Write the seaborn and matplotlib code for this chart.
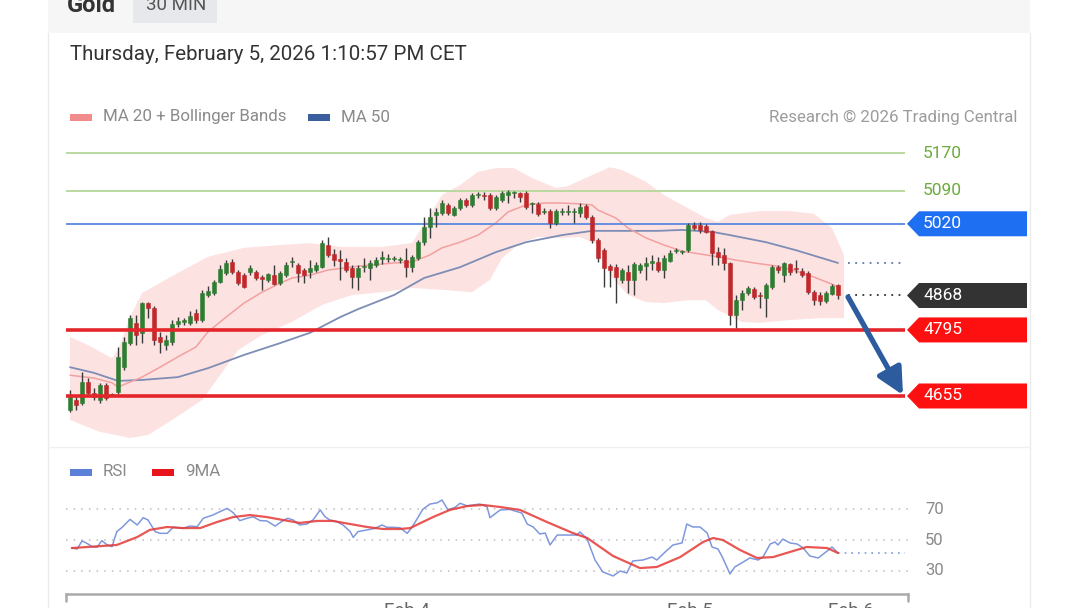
import matplotlib
matplotlib.use("Agg")
import matplotlib.pyplot as plt
import matplotlib.patches as mpatches
import matplotlib.lines as mlines
import matplotlib.transforms as mtransforms
import numpy as np
import seaborn as sns

# --- candles (30 min) ---
opens = [4625, 4646, 4640, 4685, 4661, 4646, 4678, 4655, 4663, 4716,
         4767, 4810, 4789, 4852, 4841, 4780, 4763, 4770, 4808, 4812,
         4810, 4831, 4816, 4869, 4873, 4897, 4916, 4939, 4918, 4911,
         4918, 4918, 4907, 4901, 4911, 4894, 4911, 4939, 4933, 4922,
         4918, 4922, 4928, 4975, 4956, 4946, 4939, 4926, 4907, 4928,
         4926, 4933, 4946, 4945, 4945, 4943, 4943, 4928, 4947, 4981,
         5013, 5038, 5043, 5060, 5038, 5053, 5070, 5060, 5081, 5081,
         5081, 5053, 5070, 5081, 5085, 5085, 5085, 5062, 5062, 5045,
         5047, 5022, 5045, 5045, 5045, 5043, 5058, 5034, 4986, 4964,
         4931, 4928, 4901, 4918, 4901, 4922, 4930, 4937, 4939, 4922,
         4941, 4962, 4960, 4964, 5017, 5017, 5015, 5004, 4960, 4954,
         4937, 4827, 4858, 4873, 4882, 4869, 4863, 4886, 4928, 4911,
         4935, 4926, 4920, 4916, 4875, 4869, 4856, 4871, 4890]
highs = [4668, 4655, 4706, 4693, 4672, 4682, 4682, 4661, 4759, 4780,
         4827, 4827, 4854, 4854, 4846, 4791, 4784, 4816, 4822, 4820,
         4835, 4839, 4880, 4888, 4901, 4933, 4943, 4945, 4922, 4916,
         4933, 4922, 4911, 4916, 4933, 4920, 4939, 4950, 4937, 4926,
         4943, 4939, 4986, 4992, 4967, 4964, 4947, 4933, 4933, 4947,
         4943, 4950, 4962, 4956, 4952, 4950, 4969, 4954, 4986, 5034,
         5053, 5053, 5070, 5064, 5058, 5075, 5075, 5085, 5087, 5087,
         5085, 5081, 5089, 5092, 5089, 5087, 5089, 5066, 5066, 5053,
         5051, 5051, 5053, 5060, 5053, 5064, 5062, 5039, 4990, 4969,
         4935, 4935, 4926, 4933, 4939, 4937, 4950, 4954, 4950, 4954,
         4964, 4969, 4964, 5022, 5024, 5024, 5020, 5007, 4971, 4969,
         4939, 4869, 4880, 4888, 4886, 4875, 4894, 4933, 4933, 4939,
         4937, 4943, 4926, 4920, 4880, 4875, 4877, 4892, 4892]
lows = [4621, 4625, 4636, 4655, 4646, 4640, 4646, 4655, 4659, 4710,
        4763, 4763, 4767, 4820, 4763, 4746, 4752, 4763, 4801, 4805,
        4805, 4810, 4812, 4865, 4869, 4894, 4911, 4914, 4890, 4884,
        4911, 4901, 4880, 4897, 4890, 4890, 4907, 4928, 4897, 4894,
        4905, 4918, 4926, 4950, 4930, 4901, 4918, 4884, 4880, 4918,
        4901, 4928, 4935, 4939, 4941, 4937, 4907, 4918, 4943, 4975,
        4990, 5013, 5039, 5039, 5036, 5049, 5056, 5056, 5075, 5070,
        5049, 5049, 5066, 5064, 5075, 5066, 5051, 5043, 5036, 5041,
        5011, 5017, 5039, 5039, 5022, 5034, 5030, 4979, 4939, 4886,
        4886, 4852, 4894, 4873, 4869, 4916, 4901, 4922, 4918, 4905,
        4939, 4958, 4956, 4960, 5007, 5000, 5000, 4933, 4933, 4922,
        4805, 4799, 4837, 4869, 4861, 4841, 4822, 4882, 4916, 4897,
        4911, 4916, 4907, 4871, 4848, 4848, 4852, 4869, 4861]
closes = [4653, 4636, 4685, 4661, 4653, 4678, 4651, 4659, 4738, 4769,
          4820, 4784, 4852, 4841, 4774, 4769, 4774, 4808, 4814, 4814,
          4825, 4816, 4873, 4877, 4897, 4924, 4937, 4918, 4894, 4886,
          4926, 4905, 4903, 4914, 4892, 4916, 4933, 4941, 4916, 4911,
          4926, 4933, 4979, 4954, 4943, 4941, 4922, 4907, 4926, 4930,
          4937, 4943, 4947, 4947, 4945, 4943, 4928, 4950, 4981, 5013,
          5034, 5045, 5064, 5043, 5053, 5070, 5060, 5081, 5081, 5079,
          5053, 5077, 5085, 5087, 5085, 5077, 5055, 5062, 5041, 5045,
          5022, 5047, 5045, 5045, 5045, 5055, 5034, 4986, 4947, 4926,
          4922, 4907, 4922, 4901, 4935, 4933, 4937, 4941, 4922, 4947,
          4958, 4964, 4962, 5017, 5011, 5007, 5002, 4958, 4950, 4937,
          4827, 4858, 4873, 4884, 4865, 4867, 4890, 4928, 4922, 4937,
          4918, 4924, 4911, 4875, 4858, 4856, 4873, 4888, 4868]

# --- indicators (sampled at candle positions) ---
ma20_idx = [0, 4, 7, 8, 12, 15, 18, 21, 23, 26, 29, 32, 35, 37, 40, 43, 48, 54,
            57, 60, 62, 65, 68, 71, 73, 76, 79, 82, 85, 87, 88, 91, 93, 96, 99,
            102, 105, 108, 111, 114, 118, 121, 124, 127, 128]
ma20 = [4699, 4693, 4683, 4674, 4695, 4716, 4738, 4759, 4791, 4822, 4852, 4875,
        4894, 4905, 4911, 4922, 4930, 4937, 4939, 4954, 4969, 4981, 4996, 5022,
        5045, 5060, 5064, 5064, 5062, 5060, 5049, 5032, 5011, 4990, 4975, 4962,
        4956, 4950, 4943, 4937, 4930, 4920, 4907, 4892, 4886]

bb_up_idx = [0, 3, 7, 8, 10, 12, 18, 23, 29, 35, 40, 45, 52, 57, 60, 62, 65, 68,
             71, 74, 77, 81, 83, 87, 90, 92, 96, 99, 102, 106, 108, 110, 115,
             120, 124, 127, 129]
bb_upper = [4780, 4763, 4735, 4752, 4822, 4873, 4916, 4950, 4969, 4975, 4979,
            4971, 4971, 4979, 5039, 5081, 5102, 5130, 5138, 5138, 5117, 5096,
            5100, 5123, 5140, 5134, 5109, 5081, 5060, 5032, 5024, 5039, 5047,
            5047, 5041, 5011, 4954]
bb_lo_idx = [0, 5, 10, 13, 17, 22, 25, 28, 32, 37, 42, 47, 52, 57, 62, 67, 70,
             72, 75, 78, 82, 85, 88, 90, 93, 96, 99, 103, 106, 108, 112, 115,
             120, 125, 129]
bb_lower = [4604, 4579, 4566, 4572, 4604, 4646, 4699, 4752, 4784, 4812, 4848,
            4869, 4875, 4884, 4880, 4875, 4901, 4947, 4979, 4992, 4990, 4992,
            4975, 4911, 4869, 4854, 4852, 4858, 4858, 4837, 4812, 4810, 4816,
            4820, 4820]

ma50_idx = [0, 4, 8, 12, 18, 23, 29, 35, 40, 45, 48, 54, 59, 65, 71, 76, 82, 87,
            92, 98, 102, 107, 110, 116, 121, 128]
ma50 = [4716, 4704, 4687, 4689, 4695, 4714, 4742, 4767, 4789, 4822, 4839, 4869,
        4905, 4928, 4960, 4981, 4996, 5005, 5005, 5005, 5007, 5003, 4996, 4981,
        4964, 4937]

rsi_idx = [0.3, 1.2, 2.0, 2.8, 3.7, 4.5, 5.3, 6.2, 7.0, 7.8, 8.7, 10.0, 11.2,
           12.2, 13.0, 14.2, 15.0, 16.2, 17.2, 18.8, 20.0, 21.2, 22.2, 23.8,
           25.0, 26.2, 27.2, 28.3, 29.5, 30.5, 31.7, 32.8, 34.2, 35.5, 36.3,
           37.2, 38.3, 39.5, 40.5, 41.7, 42.5, 43.3, 44.5, 45.5, 46.7, 47.2,
           48.0, 49.5, 50.8, 52.0, 52.8, 53.8, 55.0, 56.2, 57.0, 57.8, 58.8,
           60.0, 61.2, 62.0, 63.0, 64.2, 65.0, 66.2, 67.2, 68.3, 69.5, 70.0,
           71.7, 73.3, 75.3, 76.2, 77.2, 78.3, 79.2, 80.0, 81.2, 82.8, 84.5,
           85.0, 86.2, 87.5, 88.8, 90.5, 91.7, 92.8, 93.8, 95.5, 97.0, 97.8,
           99.2, 100.5, 102.0, 102.8, 103.8, 105.0, 106.2, 107.0, 108.0,
           108.8, 110.0, 110.8, 112.2, 113.3, 114.7, 115.5, 116.7, 117.5,
           118.0, 118.8, 120.0, 121.2, 122.2, 123.3, 124.7, 126.2, 127.0, 128.0]
rsi = [44.8, 44.2, 49.4, 47.9, 45.7, 45.3, 49.6, 46.8, 45.7, 55.4, 58.2, 63.3,
       59.7, 64.4, 62.9, 55.4, 54.3, 54.3, 58.2, 57.5, 59.0, 58.6, 64.0, 66.1,
       68.3, 70.4, 67.6, 62.5, 64.0, 65.0, 62.5, 62.3, 59.0, 62.5, 64.0, 62.9,
       59.7, 60.3, 62.9, 69.4, 65.0, 62.9, 61.8, 59.7, 55.4, 51.7, 55.4, 56.5,
       57.5, 59.7, 58.2, 58.2, 57.9, 54.3, 58.2, 63.3, 69.8, 73.2, 74.0, 75.8,
       69.4, 71.1, 73.7, 72.0, 72.6, 73.2, 71.5, 64.4, 69.4, 69.7, 67.4, 60.3,
       58.4, 53.9, 54.5, 46.8, 53.2, 53.2, 53.2, 55.2, 50.6, 37.1, 29.4, 26.8,
       30.0, 28.7, 36.5, 37.1, 39.0, 37.1, 42.3, 46.8, 48.1, 60.3, 58.4, 58.4,
       54.5, 45.5, 44.2, 38.4, 28.1, 32.6, 35.8, 38.4, 37.1, 39.0, 47.4, 48.7,
       46.8, 50.6, 48.1, 47.4, 44.8, 39.7, 38.4, 42.9, 45.5, 41.6]

ma9_idx = [0.3, 7.8, 11.2, 13.3, 16.2, 18.8, 21.7, 24.5, 27.2, 30.0, 32.8, 35.5,
           38.3, 41.2, 43.8, 46.7, 49.5, 52.2, 55.0, 56.7, 60.5, 63.3, 66.2,
           68.8, 71.7, 75.0, 79.5, 83.8, 86.2, 90.5, 95.0, 97.8, 101.7, 105.5,
           107.2, 108.8, 111.7, 114.5, 117.2, 120.0, 122.8, 126.2, 128.0]
ma9 = [44.8, 46.8, 51.9, 56.5, 58.4, 57.7, 57.7, 61.6, 64.8, 66.1, 64.8, 62.9,
       61.0, 62.3, 62.3, 60.3, 58.4, 57.1, 57.1, 57.7, 64.8, 69.4, 71.9, 72.6,
       71.3, 69.4, 61.6, 54.5, 51.3, 39.7, 31.9, 32.6, 39.0, 48.7, 51.3, 50.0,
       43.5, 38.4, 39.0, 42.3, 45.5, 44.8, 41.6]

resistances = [5170, 5090]
pivot = 5020
last_price = 4868
supports = [4795, 4655]
rsi_levels = [70, 50, 30]
date_idx = [56.2, 103.3, 130.2]
date_labels = ["Feb 4", "Feb 5", "Feb 6"]

sns.set_style("white")
plt.rcParams['font.family'] = ['Roboto', 'DejaVu Sans']

W, H = 1080, 608
fig = plt.figure(figsize=(10.8, 6.08), dpi=100)
fig.patch.set_facecolor("white")


def fx(x):
    return x / W


def fy(y):
    return 1 - y / H


# page furniture
fig.add_artist(mpatches.Rectangle((fx(48), fy(33)), fx(982), 33 / H, color="#f6f6f6", lw=0))
fig.add_artist(mpatches.Rectangle((fx(133), fy(23)), fx(84), 23 / H, color="#e6e8eb", lw=0))
fig.text(fx(67), fy(6), "Gold", fontsize=17, fontweight="bold", color="#333333", va="center")
fig.text(fx(176), fy(5), "30 MIN", fontsize=13.5, color="#555555", va="center", ha="center")
for xx in (48, 1030):
    fig.add_artist(mlines.Line2D([fx(xx), fx(xx)], [fy(33), 0], color="#ebebeb", lw=1))
fig.add_artist(mlines.Line2D([fx(48), fx(1030)], [fy(447), fy(447)], color="#f0f0f0", lw=1))
fig.text(fx(70), fy(55), "Thursday, February 5, 2026 1:10:57 PM CET", fontsize=14.8,
         color="#333333", va="center")

# legends
for x0, col, txt in [(70, "#f28b8b", "MA 20 + Bollinger Bands"), (308, "#3b5e9e", "MA 50")]:
    fig.add_artist(mpatches.Rectangle((fx(x0), fy(121)), fx(22), 7 / H, color=col, lw=0))
    fig.text(fx(x0 + 33), fy(117), txt, fontsize=12.2, color="#8a8a8a", va="center")
fig.text(fx(1017), fy(117), "Research \u00a9 2026 Trading Central", fontsize=12.2,
         color="#9c9c9c", va="center", ha="right")
for x0, col, txt in [(70, "#5c80d8", "RSI"), (152, "#e8161b", "9MA")]:
    fig.add_artist(mpatches.Rectangle((fx(x0), fy(476)), fx(22), 7 / H, color=col, lw=0))
    fig.text(fx(x0 + 33), fy(472), txt, fontsize=12.2, color="#8a8a8a", va="center")

# --- price panel ---
ax = fig.add_axes([fx(66), fy(445), (908 - 66) / W, (445 - 140) / H])
x0l, x1l = -0.667, 139.667
ax.set_xlim(x0l, x1l)
ax.set_ylim(4551.1, 5197.6)

band_x = np.concatenate([bb_up_idx, bb_lo_idx[::-1]])
band_y = np.concatenate([bb_upper, bb_lower[::-1]])
ax.fill(band_x, band_y, color="#fde2e2", lw=0, zorder=1)

sns.lineplot(x=ma50_idx, y=ma50, ax=ax, color="#7d8db5", lw=1.3, zorder=2)
sns.lineplot(x=ma20_idx, y=ma20, ax=ax, color="#f2a0a0", lw=1.1, zorder=2)

line_end = (905 - 70) / 6
for lv in resistances:
    ax.hlines(lv, x0l, line_end, color="#b3d799", lw=1.3, zorder=2)
ax.hlines(pivot, x0l, line_end, color="#5b88e0", lw=1.3, zorder=2)
for lv in supports:
    ax.hlines(lv, x0l, line_end, color="#e3262b", lw=2.6, zorder=5)

idx = np.arange(len(closes))
o = np.array(opens)
c = np.array(closes)
up = c >= o
cols = np.where(up, "#2f7d32", "#c0282c")
ax.vlines(idx, lows, highs, color="#3a3a3a", lw=1, zorder=3)
ax.bar(idx, np.maximum(np.abs(c - o), 3), bottom=np.minimum(o, c), width=0.7,
       color=cols, edgecolor=cols, lw=0.4, zorder=4)

ext0 = (848 - 70) / 6
ax.plot([ext0, line_end], [ma50[-1], ma50[-1]], ls=(0, (1, 3)), color="#5a78a8", lw=1.3)
ax.plot([ext0, line_end], [last_price, last_price], ls=(0, (1, 3)), color="#333333", lw=1.3)

ax.annotate("", xy=((903 - 70) / 6, 4657), xytext=(ext0, 4865),
            arrowprops=dict(arrowstyle="-|>,head_length=1.0,head_width=0.5", lw=3.8,
                            color="#2c5c9e", mutation_scale=16, shrinkA=0, shrinkB=0),
            zorder=6)
ax.axis("off")

blend = mtransforms.blended_transform_factory(fig.transFigure, ax.transData)
for lv in resistances:
    ax.text(fx(923), lv, str(lv), transform=blend, fontsize=12.5, color="#6cab3f",
            va="center", clip_on=False)

ylo, yhi = ax.get_ylim()
hh = 12.5 * (yhi - ylo) / (445 - 140)
for lv, col in [(pivot, "#1f6ff2"), (last_price, "#333333"),
                (supports[0], "#ff1010"), (supports[1], "#ff1010")]:
    verts = [(fx(907), lv), (fx(919), lv + hh), (fx(1027), lv + hh),
             (fx(1027), lv - hh), (fx(919), lv - hh)]
    ax.add_patch(mpatches.Polygon(verts, closed=True, transform=blend, color=col,
                                  lw=0, clip_on=False, zorder=7))
    ax.text(fx(923), lv, str(lv), transform=blend, fontsize=12.5, color="white",
            va="center", clip_on=False, zorder=8)

# --- RSI panel ---
rax = fig.add_axes([fx(66), fy(594), (908 - 66) / W, (594 - 490) / H])
rax.set_xlim(x0l, x1l)
rax.set_ylim(15.16, 82.26)
rblend = mtransforms.blended_transform_factory(fig.transFigure, rax.transData)
for lv in rsi_levels:
    rax.plot([x0l, x1l], [lv, lv], ls=(0, (1, 4)), color="#bdbdbd", lw=1.1)
    rax.text(fx(925), lv, str(lv), transform=rblend, fontsize=12, color="#8a8a8a",
             va="center")
sns.lineplot(x=rsi_idx, y=rsi, ax=rax, color="#7f98dd", lw=1.1, zorder=3)
sns.lineplot(x=ma9_idx, y=ma9, ax=rax, color="#e53935", lw=1.6, alpha=0.85, zorder=4)
rax.plot([rsi_idx[-1], line_end], [rsi[-1], rsi[-1]], ls=(0, (1, 3)), color="#7f98dd", lw=1.2)

for s in ["top", "left", "right"]:
    rax.spines[s].set_visible(False)
rax.spines["bottom"].set_color("#aaaaaa")
rax.spines["bottom"].set_linewidth(1.8)
rax.set_yticks([])
rax.set_xticks(date_idx)
rax.set_xticklabels(date_labels)
rax.tick_params(axis="x", length=0, pad=6, labelsize=13.5, labelcolor="#666666")
rax.set_xlabel("")
rax.set_ylabel("")
for xx in (66, 908):
    fig.add_artist(mlines.Line2D([fx(xx), fx(xx)], [fy(594), fy(601)], color="#aaaaaa", lw=1.8))

fig.savefig("out.png", dpi=100)
